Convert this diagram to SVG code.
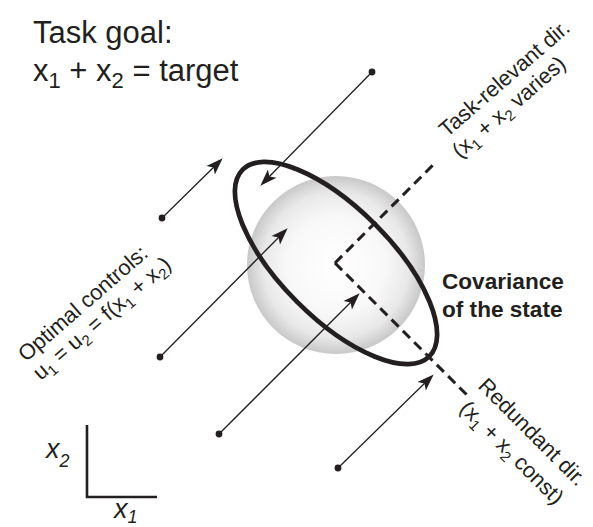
<svg xmlns="http://www.w3.org/2000/svg" width="593" height="527" viewBox="0 0 593 527">
  <style>
    text { font-family: "Liberation Sans", Arial, sans-serif; fill: #231f20; }
    .big { font-size: 31px; }
    .lbl { font-size: 21.8px; }
    .bold { font-size: 22.6px; font-weight: bold; }
    .ax { font-size: 27px; font-style: italic; }
    .arrow { fill: none; stroke: #231f20; stroke-width: 1.3; marker-start: url(#dot); marker-end: url(#head); }
    .dash { fill: none; stroke: #231f20; stroke-width: 3; stroke-dasharray: 10 6; }
    .axis { fill: none; stroke: #231f20; stroke-width: 2.6; }
  </style>
  <defs>
    <radialGradient id="sph" cx="50%" cy="50%" r="50%">
      <stop offset="0" stop-color="#ffffff"/>
      <stop offset="0.55" stop-color="#f8f8f8"/>
      <stop offset="0.82" stop-color="#e8e8e8"/>
      <stop offset="1" stop-color="#c8c8c8"/>
    </radialGradient>
    <marker id="head" markerUnits="userSpaceOnUse" markerWidth="20" markerHeight="20" refX="0" refY="0" viewBox="-12 -6 16 12" orient="auto" overflow="visible">
      <path d="M3,0 L-10.5,-4.8 L-7.3,0 L-10.5,4.8 Z" fill="#231f20"/>
    </marker>
    <marker id="dot" markerUnits="userSpaceOnUse" markerWidth="10" markerHeight="10" refX="0" refY="0" viewBox="-5 -5 10 10" overflow="visible">
      <circle cx="0" cy="0" r="3.4" fill="#231f20"/>
    </marker>
  </defs>

  <g id="title">
    <text class="big" x="33" y="43">Task goal:</text>
    <text class="big" x="33" y="81">x<tspan font-size="22" dy="7">1</tspan><tspan dy="-7"> + x</tspan><tspan font-size="22" dy="7">2</tspan><tspan dy="-7"> = target</tspan></text>
  </g>

  <g id="sphere">
    <circle cx="336" cy="265" r="89" fill="url(#sph)"/>
  </g>

  <g id="connectors">
    <path class="dash" d="M335,263 L434,164"/>
    <path class="dash" d="M335,263 L467,395"/>
    <path class="arrow" d="M372,72 L263,183"/>
    <path class="arrow" d="M162,218 L220,161"/>
    <path class="arrow" d="M160,357 L285,231"/>
    <path class="arrow" d="M219,434 L357,296"/>
    <path class="arrow" d="M338,468 L431,377"/>
  </g>

  <g id="covariance-ellipse">
    <ellipse cx="336" cy="263" rx="132" ry="55" transform="rotate(45 336 263)" fill="none" stroke="#231f20" stroke-width="4.7"/>
  </g>

  <g id="task-relevant-label" transform="translate(447,138) rotate(-41)">
    <text class="lbl" x="0" y="0">Task-relevant dir.</text>
    <text class="lbl" x="-4" y="24.5">(x<tspan font-size="15" dy="5">1</tspan><tspan dy="-5"> + x</tspan><tspan font-size="15" dy="5">2</tspan><tspan dy="-5"> varies)</tspan></text>
  </g>

  <g id="optimal-controls-label" transform="translate(26,362.6) rotate(-41)">
    <text class="lbl" x="0" y="0">Optimal controls:</text>
    <text class="lbl" x="-1" y="23.5">u<tspan font-size="15" dy="5">1</tspan><tspan dy="-5"> = u</tspan><tspan font-size="15" dy="5">2</tspan><tspan dy="-5"> = f(x</tspan><tspan font-size="15" dy="5">1</tspan><tspan dy="-5"> + x</tspan><tspan font-size="15" dy="5">2</tspan><tspan dy="-5">)</tspan></text>
  </g>

  <g id="redundant-label" transform="translate(477,387) rotate(45)">
    <text class="lbl" x="0" y="0">Redundant dir.</text>
    <text class="lbl" x="3" y="29">(x<tspan font-size="15" dy="5">1</tspan><tspan dy="-5"> + x</tspan><tspan font-size="15" dy="5">2</tspan><tspan dy="-5"> const)</tspan></text>
  </g>

  <g id="covariance-label">
    <text class="bold" x="442" y="289">Covariance</text>
    <text class="bold" x="442" y="317">of the state</text>
  </g>

  <g id="axes">
    <path class="axis" d="M87,425 L87,497 L157,497"/>
    <text class="ax" x="46" y="458">x<tspan font-size="18" dy="9">2</tspan></text>
    <text class="ax" x="114" y="518">x<tspan font-size="18" dy="5">1</tspan></text>
  </g>
</svg>
